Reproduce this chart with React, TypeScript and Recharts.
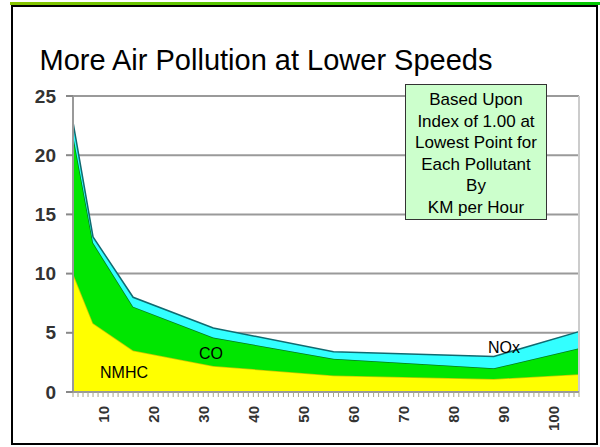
import { AreaChart, Area, XAxis, YAxis, CartesianGrid, ReferenceLine } from 'recharts';

// km per hour (2.5 mph steps converted) and pollution index per pollutant
const speeds = [4, 8, 16, 32, 56, 88, 105];
const nmhc = [10.0, 5.8, 3.5, 2.2, 1.4, 1.1, 1.5];
const co = [11.7, 6.8, 3.7, 2.4, 1.4, 0.9, 2.2];
const nox = [1.1, 0.5, 0.8, 0.8, 0.6, 1.0, 1.4];

const yTicks = [0, 5, 10, 15, 20, 25];
const xLabels = [10, 20, 30, 40, 50, 60, 70, 80, 90, 100];
const minorTicks = Array.from({ length: 102 }, (_, i) => i + 4);

const boxLines = ['Based Upon', 'Index of 1.00 at', 'Lowest Point for', 'Each Pollutant', 'By', 'KM per Hour'];

const data = speeds.map((s, i) => ({ speed: s, NMHC: nmhc[i], CO: co[i], NOx: nox[i] }));

const font = '"Liberation Sans", Arial, sans-serif';

const SpeedTick = (props: any) => {
  const { x, y, payload } = props;
  const v = payload.value;
  return (
    <g>
      <line x1={x} y1={y} x2={x} y2={y + 5} stroke="#a9a88a" strokeWidth={1} />
      {xLabels.includes(v) && (
        <text
          x={x}
          y={y + 14}
          transform={`rotate(-90 ${x} ${y + 14})`}
          textAnchor="end"
          dominantBaseline="central"
          fontFamily={font}
          fontWeight="bold"
          fontSize={15}
          fill="#333"
        >
          {v}
        </text>
      )}
    </g>
  );
};

const ValueTick = (props: any) => {
  const { x, y, payload } = props;
  return (
    <text x={x} y={y} textAnchor="end" dominantBaseline="central" fontFamily={font} fontWeight="bold" fontSize={19} fill="#333">
      {payload.value}
    </text>
  );
};

export default function App() {
  return (
    <div style={{ position: 'fixed', left: 0, top: 0, width: 600, height: 447, background: '#fff' }}>
      <AreaChart width={600} height={447} data={data} margin={{ top: 96, right: 21, bottom: 15, left: 13 }}>
        <CartesianGrid vertical={false} stroke="#9a9a9a" strokeWidth={2} />
        <XAxis
          dataKey="speed"
          type="number"
          domain={[4, 105]}
          ticks={minorTicks}
          interval={0}
          tick={<SpeedTick />}
          tickSize={0}
          tickMargin={0}
          tickLine={false}
          axisLine={{ stroke: '#999', strokeWidth: 2 }}
          height={40}
        />
        <YAxis
          domain={[0, 25]}
          ticks={yTicks}
          width={60}
          tickSize={7}
          tickMargin={10}
          tickLine={{ stroke: '#888', strokeWidth: 2 }}
          axisLine={{ stroke: '#999', strokeWidth: 2 }}
          tick={<ValueTick />}
        />
        <ReferenceLine x={105} stroke="#ccc" strokeWidth={2} />
        <Area type="linear" dataKey="NMHC" stackId="1" fill="#ffff00" fillOpacity={1} stroke="#c8c800" strokeWidth={1.5} isAnimationActive={false} />
        <Area type="linear" dataKey="CO" stackId="1" fill="#00e600" fillOpacity={1} stroke="#007a20" strokeWidth={1.5} isAnimationActive={false} />
        <Area type="linear" dataKey="NOx" stackId="1" fill="#33ffff" fillOpacity={1} stroke="#106a70" strokeWidth={1.5} isAnimationActive={false} />
      </AreaChart>
      <svg width={600} height={447} style={{ position: 'absolute', left: 0, top: 0, pointerEvents: 'none' }}>
        <defs>
          <linearGradient id="topLine" x1="0" x2="1" y1="0" y2="0">
            <stop offset="0" stopColor="#88c400" />
            <stop offset="1" stopColor="#00c800" />
          </linearGradient>
        </defs>
        <rect x={10} y={2} width={590} height={3} fill="url(#topLine)" />
        <rect x={12} y={6} width={585} height={438} fill="none" stroke="#000" strokeWidth={2} />
        <text x={266} y={70} textAnchor="middle" fontFamily={font} fontSize={29} fill="#000">
          More Air Pollution at Lower Speeds
        </text>
        <rect x={405.5} y={84.5} width={141} height={135} fill="#ccffcc" stroke="#333" strokeWidth={1} />
        {boxLines.map((t, i) => (
          <text key={t} x={476} y={105 + i * 21.5} textAnchor="middle" fontFamily={font} fontSize={17} fill="#000">
            {t}
          </text>
        ))}
        <text x={100} y={378} fontFamily={font} fontSize={16} fill="#000">NMHC</text>
        <text x={199} y={359} fontFamily={font} fontSize={16} fill="#000">CO</text>
        <text x={488} y={353} fontFamily={font} fontSize={16} fill="#000">NOx</text>
      </svg>
    </div>
  );
}
